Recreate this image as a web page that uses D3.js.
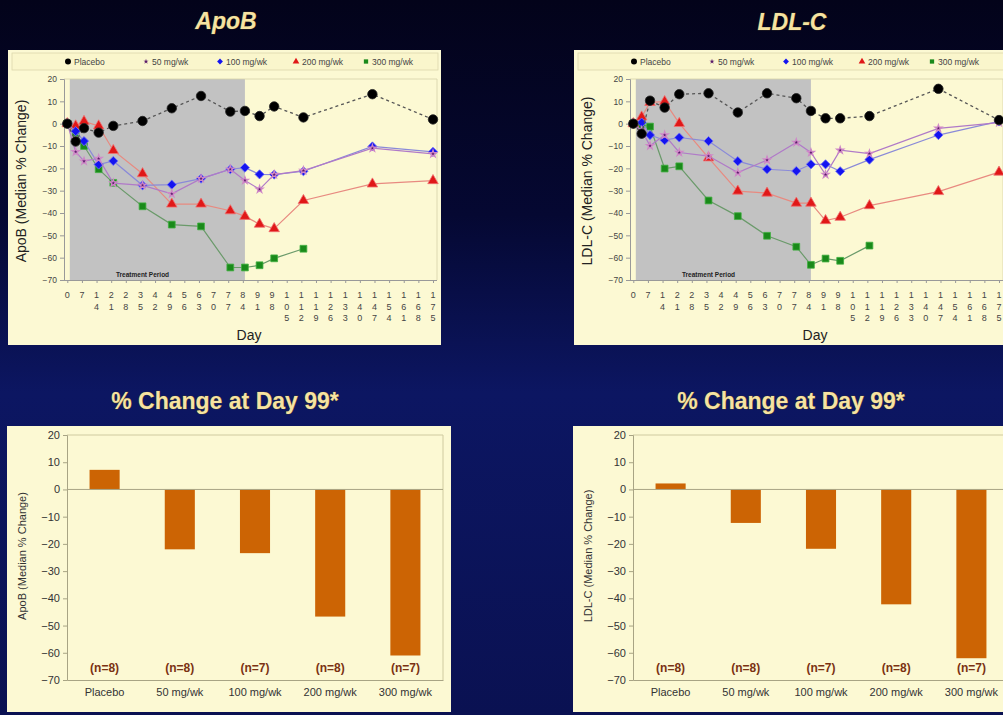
<!DOCTYPE html>
<html>
<head>
<meta charset="utf-8">
<script src="https://cdn.jsdelivr.net/npm/d3@7"></script>
<style>
  html, body { margin: 0; padding: 0; background: #04051f; }
  svg { display: block; }
  text { font-family: Arial, "Liberation Sans", sans-serif; }
</style>
</head>
<body>
<div class="chart"></div>
<script>
(function() {
	var width = 1003,
		height = 715;

	// study days with a measurement
	var days = [0, 4, 8, 15, 22, 36, 50, 64, 78, 85, 92, 99, 113, 146, 175];
	var dayTicks = [0, 7, 14, 21, 28, 35, 42, 49, 56, 63, 70, 77, 84, 91, 98, 105,
		112, 119, 126, 133, 140, 147, 154, 161, 168, 175];

	var seriesNames = ["Placebo", "50 mg/wk", "100 mg/wk", "200 mg/wk", "300 mg/wk"];

	// ApoB median % change
	var apobPlacebo = [0, -8, -2, -4, -1, 1.2, 6.9, 12.4, 5.4, 5.7, 3.4, 7.7, 2.8, 13.2, 1.9];
	var apob50 = [0, -12.6, -16.8, -15.6, -26.6, -27.6, -31.4, -24.6, -20.4, -25.4, -29.4, -22.8, -21, -11, -13.5];
	var apob100 = [0, -3.4, -7.8, -18.3, -16.7, -27.6, -27.3, -24.6, -20.4, -19.7, -22.7, -22.8, -21.3, -10.2, -12.6];
	var apob200 = [0, -1, 1, -1, -12, -22.4, -36, -36, -39, -41.5, -45, -47, -34.4, -27, -25.5];
	var apob300 = [0, -4, -10, -20.4, -26.5, -37, -45.2, -46, -64.4, -64.4, -63.4, -60.3, -56, null, null];

	// LDL-C median % change
	var ldlPlacebo = [0, -4.5, 10.3, 7.2, 13.2, 13.6, 5, 13.6, 11.4, 5.7, 2.4, 2.4, 3.4, 15.6, 1.6];
	var ldl50 = [0, -3, -9.9, -5.1, -12.9, -14.5, -21.9, -16.3, -8.4, -12.9, -22.8, -11.9, -13.4, -2.1, 0.5];
	var ldl100 = [0, 0.5, -5.1, -7.4, -6.2, -7.8, -16.8, -20.4, -21.2, -18.2, -18.2, -21.3, -16.1, -5.1, 1];
	var ldl200 = [0, 3, 9.5, 9.9, 0.1, -15.3, -30.2, -31.1, -35.6, -35.6, -43.4, -41.9, -36.7, -30.4, -21.7];
	var ldl300 = [0, -0.5, -1.3, -20.1, -19.1, -34.4, -41.4, -50.2, -55.1, -63.2, -60.4, -61.4, -54.6, null, null];

	// % change at day 99
	var apobDay99 = [7.2, -22, -23.4, -46.7, -61];
	var ldlDay99 = [2.2, -12.3, -21.8, -42.2, -62];
	var nLabels = ["(n=8)", "(n=8)", "(n=7)", "(n=8)", "(n=7)"];
	var yTicks = [20, 10, 0, -10, -20, -30, -40, -50, -60, -70];

	var styles = [
		{ line: "#555", dash: "3,3", fill: "#000", stroke: "#222", shape: "circle", size: 70 },
		{ line: "#b07ac8", dash: null, fill: "#5a1a6a", stroke: "#d088c8", shape: "star", size: 16 },
		{ line: "#8a8ad8", dash: null, fill: "#1414f0", stroke: "#6f6ff8", shape: "diamond", size: 42 },
		{ line: "#e88a80", dash: null, fill: "#e01818", stroke: "#f07070", shape: "triangle", size: 48 },
		{ line: "#6a9a6a", dash: null, fill: "#1a8a1a", stroke: "#40b040", shape: "square", size: 46 }
	];
	var drawOrder = [4, 3, 2, 1, 0];

	var svg = d3.select(".chart").append("svg")
		.attr("width", width)
		.attr("height", height);

	var grad = svg.append("defs").append("linearGradient")
		.attr("id", "bg").attr("x1", 0).attr("y1", 0).attr("x2", 0).attr("y2", 1);
	grad.append("stop").attr("offset", "0%").attr("stop-color", "#03031a");
	grad.append("stop").attr("offset", "30%").attr("stop-color", "#050832");
	grad.append("stop").attr("offset", "55%").attr("stop-color", "#0c1662");
	grad.append("stop").attr("offset", "100%").attr("stop-color", "#0a1152");

	svg.append("rect").attr("width", width).attr("height", height).attr("fill", "url(#bg)");

	function symbolPath(shape, size) {
		var type = {
			circle: d3.symbolCircle,
			star: d3.symbolStar,
			diamond: d3.symbolSquare,
			triangle: d3.symbolTriangle,
			square: d3.symbolSquare
		}[shape];
		return d3.symbol().type(type).size(size)();
	}

	function title(x, y, txt, italic) {
		svg.append("text")
			.attr("x", x).attr("y", y)
			.attr("text-anchor", "middle")
			.style("font-size", "23px")
			.style("font-weight", "bold")
			.style("font-style", italic ? "italic" : "normal")
			.style("fill", "#f6e3a2")
			.style("stroke", "#5a4a22")
			.style("stroke-width", 0.7)
			.style("paint-order", "stroke")
			.text(txt);
	}

	function lineChart(dx, label, data) {
		var g = svg.append("g").attr("transform", "translate(" + dx + ",0)");

		g.append("rect")
			.attr("x", 8).attr("y", 50).attr("width", 433).attr("height", 295)
			.attr("fill", "#fcf9d3");

		// legend strip
		g.append("rect")
			.attr("x", 12).attr("y", 53).attr("width", 426).attr("height", 17)
			.attr("fill", "#faf6cc").attr("stroke", "#dcd8ac").attr("stroke-width", 0.8);

		var legendX = [68, 146, 220, 296, 366];
		seriesNames.forEach(function(name, i) {
			var s = styles[i];
			g.append("path")
				.attr("d", symbolPath(s.shape, i == 1 ? 8 : s.size * 0.4))
				.attr("transform", "translate(" + legendX[i] + ",61.5)" + (s.shape == "diamond" ? " rotate(45)" : ""))
				.attr("fill", s.fill);
			g.append("text")
				.attr("x", legendX[i] + 6).attr("y", 64.5)
				.style("font-size", "8.5px").style("fill", "#444")
				.text(name);
		});

		var x = d3.scaleLinear().domain([0, 175]).range([67.3, 433]);
		var y = d3.scaleLinear().domain([-70, 20]).range([280, 79]);

		// treatment period
		g.append("rect")
			.attr("x", x(1.2)).attr("y", y(20))
			.attr("width", x(85) - x(1.2)).attr("height", y(-70) - y(20))
			.attr("fill", "#c2c2c2");
		g.append("text")
			.attr("x", x(36)).attr("y", y(-70) - 3)
			.attr("text-anchor", "middle")
			.style("font-size", "6.5px").style("font-weight", "bold").style("fill", "#222")
			.text("Treatment  Period");

		// frame
		g.append("path")
			.attr("d", "M64," + y(20) + "H437V" + y(-70))
			.attr("fill", "none").attr("stroke", "#d6d2aa").attr("stroke-width", 0.8);

		var yAxis = g.append("g")
			.attr("transform", "translate(64,0)")
			.call(d3.axisLeft(y).tickValues(yTicks).tickSize(4).tickPadding(3));
		yAxis.select(".domain").attr("stroke", "#999");
		yAxis.selectAll(".tick line").attr("stroke", "#999");
		yAxis.selectAll("text").style("font-size", "8.5px").style("fill", "#444")
			.style("font-family", "Arial, 'Liberation Sans', sans-serif");

		var xAxis = g.append("g")
			.attr("transform", "translate(0," + y(-70) + ")")
			.call(d3.axisBottom(x).tickValues(dayTicks).tickSize(3).tickFormat(""));
		xAxis.select(".domain").attr("d", "M64,0.5H437").attr("stroke", "#999");
		xAxis.selectAll(".tick line").attr("stroke", "#999");

		// stacked digit tick labels
		dayTicks.forEach(function(t) {
			String(t).split("").forEach(function(ch, k) {
				g.append("text")
					.attr("x", x(t)).attr("y", 298 + k * 11.5)
					.attr("text-anchor", "middle")
					.style("font-size", "9px").style("fill", "#444")
					.text(ch);
			});
		});

		g.append("text")
			.attr("x", 249).attr("y", 340)
			.attr("text-anchor", "middle")
			.style("font-size", "14px").style("fill", "#222")
			.text("Day");

		g.append("text")
			.attr("transform", "translate(26,181) rotate(-90)")
			.attr("text-anchor", "middle")
			.style("font-size", "14px").style("fill", "#222")
			.text(label + " (Median % Change)");

		var line = d3.line()
			.defined(function(d) { return d.v != null; })
			.x(function(d) { return x(d.day); })
			.y(function(d) { return y(d.v); });

		drawOrder.forEach(function(i) {
			var vals = data[i];
			var s = styles[i];
			var pts = vals.map(function(v, j) { return { day: days[j], v: v }; });
			g.append("path")
				.datum(pts)
				.attr("d", line)
				.attr("fill", "none")
				.attr("stroke", s.line)
				.attr("stroke-width", i == 0 ? 1.3 : 1.2)
				.attr("stroke-dasharray", s.dash);
			g.selectAll(".m" + i)
				.data(pts.filter(function(d) { return d.v != null; }))
				.enter().append("path")
				.attr("d", symbolPath(s.shape, s.size))
				.attr("transform", function(d) {
					return "translate(" + x(d.day) + "," + y(d.v) + ")" + (s.shape == "diamond" ? " rotate(45)" : "");
				})
				.attr("fill", s.fill)
				.attr("stroke", s.stroke)
				.attr("stroke-width", i == 1 ? 1.2 : 0.8);
		});
	}

	function barChart(dx, label, values) {
		var g = svg.append("g").attr("transform", "translate(" + dx + ",0)");

		g.append("rect")
			.attr("x", 7).attr("y", 426).attr("width", 444).attr("height", 286)
			.attr("fill", "#fcf9d3");

		var x = d3.scaleBand().domain(seriesNames).range([67, 443]).paddingInner(0.6).paddingOuter(0.3);
		var y = d3.scaleLinear().domain([-70, 20]).range([680, 435]);

		g.append("path")
			.attr("d", "M67," + y(20) + "H443V" + y(-70))
			.attr("fill", "none").attr("stroke", "#cfcaa0").attr("stroke-width", 1);

		g.selectAll(".bar")
			.data(values)
			.enter().append("rect")
			.attr("x", function(d, i) { return x(seriesNames[i]); })
			.attr("y", function(d) { return y(Math.max(0, d)); })
			.attr("width", x.bandwidth())
			.attr("height", function(d) { return Math.abs(y(d) - y(0)); })
			.attr("fill", "#cc6404");

		g.append("line")
			.attr("x1", 67).attr("x2", 443).attr("y1", y(0)).attr("y2", y(0))
			.attr("stroke", "#a8a484").attr("stroke-width", 1);

		var yAxis = g.append("g")
			.attr("transform", "translate(67,0)")
			.call(d3.axisLeft(y).tickValues(yTicks).tickSize(4).tickPadding(3));
		yAxis.select(".domain").attr("stroke", "#a8a484");
		yAxis.selectAll(".tick line").attr("stroke", "#a8a484");
		yAxis.selectAll("text").style("font-size", "11px").style("fill", "#333")
			.style("font-family", "Arial, 'Liberation Sans', sans-serif");

		var xAxis = g.append("g")
			.attr("transform", "translate(0," + y(-70) + ")")
			.call(d3.axisBottom(x).tickSize(0).tickPadding(8));
		xAxis.select(".domain").attr("stroke", "#a8a484");
		xAxis.selectAll("text").style("font-size", "11px").style("fill", "#333")
			.style("font-family", "Arial, 'Liberation Sans', sans-serif");

		g.selectAll(".n")
			.data(nLabels)
			.enter().append("text")
			.attr("x", function(d, i) { return x(seriesNames[i]) + x.bandwidth() / 2; })
			.attr("y", 672)
			.attr("text-anchor", "middle")
			.style("font-size", "12px").style("font-weight", "bold").style("fill", "#7a3212")
			.text(function(d) { return d; });

		g.append("text")
			.attr("transform", "translate(26,556) rotate(-90)")
			.attr("text-anchor", "middle")
			.style("font-size", "11px").style("fill", "#333")
			.text(label + " (Median % Change)");
	}

	title(226, 29, "ApoB", true);
	title(792, 30, "LDL-C", true);
	title(225, 409, "% Change at Day 99*", false);
	title(791, 409, "% Change at Day 99*", false);

	lineChart(0, "ApoB", [apobPlacebo, apob50, apob100, apob200, apob300]);
	lineChart(566, "LDL-C", [ldlPlacebo, ldl50, ldl100, ldl200, ldl300]);
	barChart(0, "ApoB", apobDay99);
	barChart(566, "LDL-C", ldlDay99);
})();
</script>
</body>
</html>
